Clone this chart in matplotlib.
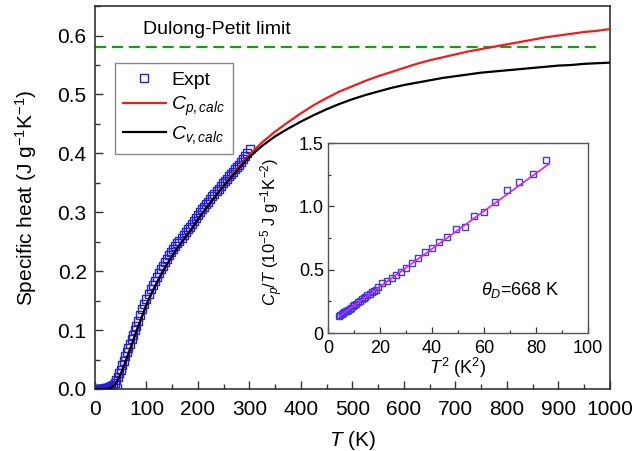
import numpy as np
import matplotlib
matplotlib.use('Agg')
import matplotlib.pyplot as plt
from matplotlib.ticker import MultipleLocator, FormatStrFormatter, FuncFormatter

plt.rcParams['font.family'] = ['Liberation Sans', 'DejaVu Sans']
plt.rcParams['mathtext.fontset'] = 'custom'
plt.rcParams['mathtext.rm'] = 'Liberation Sans'
plt.rcParams['mathtext.it'] = 'Liberation Sans:italic'
plt.rcParams['mathtext.bf'] = 'Liberation Sans:bold'

# experimental specific heat (J g-1 K-1)
T_expt = [2, 4, 6, 8, 10, 12, 14, 16, 18, 20, 22, 24, 26, 28, 30, 32, 35, 38,
          41, 44, 47, 50, 53, 56, 59, 62, 65, 68, 71, 74, 77, 80, 84, 88, 92,
          96, 100, 104, 108, 112, 116, 120, 124, 128, 132, 136, 140, 144, 148,
          152, 156, 160, 164, 168, 172, 176, 180, 184, 188, 192, 196, 200, 204,
          208, 212, 216, 220, 224, 228, 232, 236, 240, 244, 248, 252, 256, 260,
          264, 268, 272, 276, 280, 284, 288, 292, 296, 301]
C_expt = [0.0, 0.0, 0.0, 0.0, 0.0, 0.0, 0.0002, 0.0004, 0.0006, 0.001, 0.0013,
          0.0017, 0.0022, 0.003, 0.004, 0.005, 0.007, 0.010, 0.015, 0.021, 0.027,
          0.033, 0.041, 0.048, 0.056, 0.063, 0.070, 0.077, 0.085, 0.092, 0.100,
          0.107, 0.116, 0.125, 0.135, 0.144, 0.153, 0.161, 0.169, 0.176, 0.183,
          0.190, 0.197, 0.203, 0.209, 0.215, 0.221, 0.227, 0.232, 0.237, 0.242,
          0.247, 0.252, 0.257, 0.261, 0.266, 0.271, 0.275, 0.280, 0.285, 0.290,
          0.295, 0.300, 0.305, 0.309, 0.314, 0.318, 0.322, 0.327, 0.331, 0.336,
          0.340, 0.344, 0.349, 0.353, 0.357, 0.361, 0.365, 0.369, 0.373, 0.377,
          0.381, 0.385, 0.390, 0.395, 0.400, 0.407]

# calculated curves
T_calc = [0, 10, 20, 30, 40, 50, 60, 70, 80, 90, 100, 110, 120, 130, 140, 150,
          160, 170, 180, 190, 200, 210, 220, 230, 240, 250, 260, 270, 280, 290,
          300, 325, 350, 375, 400, 425, 450, 475, 500, 525, 550, 575, 600, 625,
          650, 675, 700, 725, 750, 775, 800, 825, 850, 875, 900, 925, 950, 975,
          1000]
Cv_calc = [0.0, 0.0, 0.0, 0.001, 0.008, 0.025, 0.048, 0.072, 0.097, 0.120, 0.143,
           0.163, 0.180, 0.197, 0.212, 0.226, 0.239, 0.251, 0.263, 0.275, 0.288,
           0.300, 0.312, 0.323, 0.334, 0.345, 0.355, 0.365, 0.375, 0.385, 0.394,
           0.413, 0.429, 0.442, 0.454, 0.465, 0.475, 0.484, 0.492, 0.499, 0.505,
           0.511, 0.516, 0.520, 0.524, 0.528, 0.531, 0.534, 0.537, 0.539, 0.541,
           0.543, 0.545, 0.547, 0.549, 0.550, 0.552, 0.553, 0.554]
Cp_calc = [0.0, 0.0, 0.0, 0.001, 0.008, 0.025, 0.048, 0.072, 0.097, 0.120, 0.143,
           0.163, 0.180, 0.197, 0.212, 0.226, 0.239, 0.251, 0.263, 0.275, 0.288,
           0.300, 0.312, 0.323, 0.335, 0.346, 0.357, 0.368, 0.378, 0.388, 0.398,
           0.419, 0.437, 0.453, 0.468, 0.482, 0.494, 0.505, 0.514, 0.523, 0.531,
           0.538, 0.545, 0.552, 0.558, 0.563, 0.568, 0.573, 0.577, 0.581, 0.585,
           0.589, 0.593, 0.597, 0.600, 0.603, 0.606, 0.608, 0.611]
dulong_petit = 0.58

# low temperature inset: Cp/T vs T^2
T2_low = [4.4, 4.8, 5.3, 5.8, 6.3, 6.8, 7.3, 7.8, 8.4, 9.0, 9.6, 10.2, 10.9,
          11.6, 12.3, 13.0, 13.7, 14.4, 15.2, 16.0, 16.8, 17.6, 18.4, 19.2,
          20.9, 22.7, 24.5, 26.3, 28.2, 30.1, 32.4, 34.7, 37.2, 40.0, 42.7,
          45.9, 49.1, 52.6, 56.0, 60.0, 64.2, 68.8, 73.5, 78.7, 84.0]
CpT_low = [0.135, 0.140, 0.147, 0.155, 0.162, 0.170, 0.177, 0.185, 0.193, 0.200,
           0.210, 0.220, 0.232, 0.245, 0.254, 0.265, 0.275, 0.285, 0.298, 0.310,
           0.320, 0.330, 0.343, 0.360, 0.393, 0.412, 0.435, 0.456, 0.485, 0.514,
           0.553, 0.593, 0.637, 0.674, 0.719, 0.761, 0.818, 0.837, 0.923, 0.952,
           1.031, 1.130, 1.191, 1.259, 1.364]
T2_fit = [4.4, 85.0]
CpT_fit = [0.133, 1.335]

fig = plt.figure(figsize=(6.35, 4.51), dpi=100)
ax = fig.add_axes([0.1496, 0.1375, 0.811, 0.849])

ax.plot(T_expt, C_expt, 's', ms=5.2, mfc='none', mec='#2020e0', mew=1.0,
        label='Expt', zorder=2)
ax.plot(T_calc, Cp_calc, color='#ee1c1c', lw=1.6, label=r'$C_{p,calc}$', zorder=3)
ax.plot(T_calc, Cv_calc, color='black', lw=1.6, label=r'$C_{v,calc}$', zorder=4)
ax.axhline(dulong_petit, xmin=0, xmax=0.98, color='#1a9a1a', lw=1.6,
           dashes=(5, 2.6))
ax.text(237, 0.596, 'Dulong-Petit limit', fontsize=14, ha='center', va='bottom')

ax.set_xlim(0, 1000)
ax.set_ylim(0, 0.65)
ax.xaxis.set_major_locator(MultipleLocator(100))
ax.xaxis.set_minor_locator(MultipleLocator(50))
ax.yaxis.set_major_locator(MultipleLocator(0.1))
ax.yaxis.set_minor_locator(MultipleLocator(0.05))
ax.yaxis.set_major_formatter(FormatStrFormatter('%.1f'))
ax.tick_params(which='both', direction='in', labelsize=15, width=1.0,
               color='#333333')
ax.tick_params(axis='x', which='major', pad=8)
ax.tick_params(axis='y', which='major', pad=6)
ax.tick_params(which='major', length=6)
ax.tick_params(which='minor', length=3.5)
for s in ax.spines.values():
    s.set_linewidth(1.2)
    s.set_color('#333333')
ax.set_xlabel('$T$ (K)', fontsize=15, labelpad=7)
ax.set_ylabel('Specific heat (J g$^{-1}$K$^{-1}$)', fontsize=15, labelpad=13)

leg = ax.legend(loc='upper left', bbox_to_anchor=(0.039, 0.851), borderaxespad=0,
                fontsize=14, fancybox=False, edgecolor='#888888',
                handlelength=2.2, handletextpad=0.3, borderpad=0.4,
                labelspacing=0.32, framealpha=1)
leg.get_frame().set_linewidth(1.0)

# inset
ins = fig.add_axes([0.5165, 0.2616, 0.4094, 0.4213])
ins.plot(T2_low, CpT_low, 's', ms=4.2, mfc='none', mec='#3a3aee', mew=1.0, zorder=2)
ins.plot(T2_fit, CpT_fit, color='#dd22dd', lw=1.2, zorder=3)
ins.text(59, 0.30, r'$\theta_D$=668 K', fontsize=13)
ins.set_xlim(0, 100)
ins.set_ylim(0, 1.5)
ins.xaxis.set_major_locator(MultipleLocator(20))
ins.xaxis.set_minor_locator(MultipleLocator(10))
ins.yaxis.set_major_locator(MultipleLocator(0.5))
ins.yaxis.set_minor_locator(MultipleLocator(0.25))
ins.yaxis.set_major_formatter(FuncFormatter(lambda v, p: '0' if v == 0 else '%.1f' % v))
ins.tick_params(which='both', direction='in', labelsize=13, width=0.9,
                color='#333333', pad=2)
ins.tick_params(axis='x', which='major', pad=5)
ins.tick_params(axis='y', which='major', pad=3)
ins.tick_params(which='major', length=4)
ins.tick_params(which='minor', length=2.5)
for s in ins.spines.values():
    s.set_linewidth(1.0)
    s.set_color('#555555')
ins.set_xlabel('$T^2$ (K$^2$)', fontsize=13, labelpad=-1)
ins.set_ylabel('$C_p/T$ (10$^{-5}$ J g$^{-1}$K$^{-2}$)', fontsize=12)
ins.yaxis.set_label_coords(-0.165, 0.535)

fig.savefig('out.png', dpi=100)
